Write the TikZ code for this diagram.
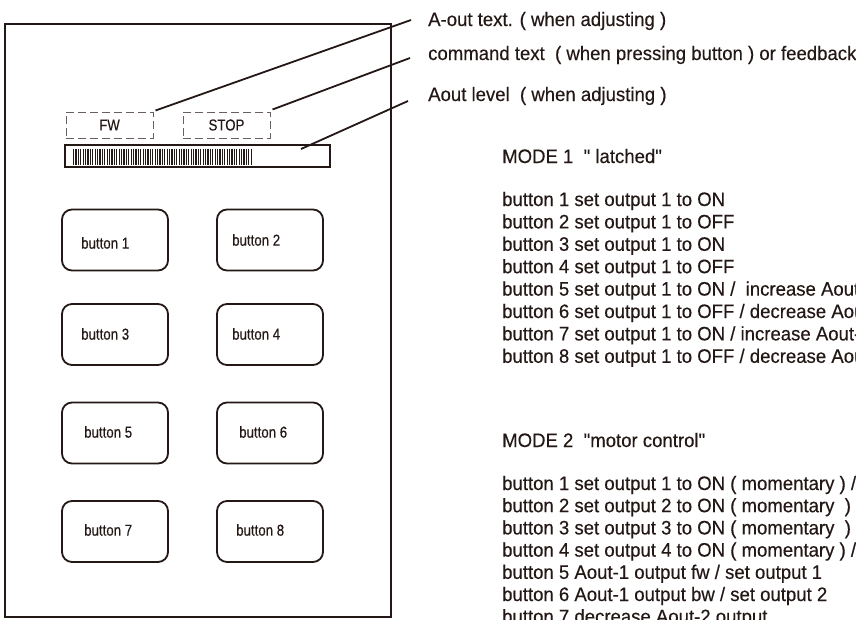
\documentclass[tikz,border=0pt]{standalone}
\usepackage{fontspec}
\setmainfont{Liberation Sans}
\newfontfamily\bigf[FakeStretch=0.952,FakeBold=0.35]{Liberation Sans}
\newfontfamily\smallf[FakeStretch=0.84,FakeBold=0.3]{Liberation Sans}
\definecolor{ink}{RGB}{35,24,21}
\definecolor{dashc}{RGB}{105,95,95}
\begin{document}
\begin{tikzpicture}[x=1pt,y=-1pt,
  outerbox/.style={draw=ink,line width=1.8pt},
  btn/.style={draw=ink,line width=1.8pt,rounded corners=10pt,minimum width=106pt,minimum height=61pt,inner sep=0pt},
  lbl/.style={text=ink,font=\smallf\fontsize{15.8}{18}\selectfont,inner sep=0pt,anchor=mid west},
  dbox/.style={draw=dashc,line width=1pt,dash pattern=on 8pt off 4pt,minimum width=87pt,minimum height=26pt,inner sep=0pt,text=ink,font=\smallf\fontsize{15.8}{18}\selectfont},
  big/.style={text=ink,font=\bigf\fontsize{19.5}{22}\selectfont,inner sep=0pt,anchor=base west},
  leader/.style={draw=ink,line width=1.8pt},
  barbox/.style={draw=ink,line width=1.8pt,minimum width=265pt,minimum height=22pt,inner sep=0pt}]
\useasboundingbox (0,0) rectangle (856,619);
\clip (0,0) rectangle (856,619);

% outer panel
\draw[outerbox] (5,24) rectangle (391,617);

% display fields
\node[dbox] (fw) at (109.5,125) {FW};
\node[dbox] (stop) at (226.5,125) {STOP};
\node[barbox] (bar) at (197.5,156) {};
\foreach \i in {0,...,74}
  \draw[ink,line width=1.3pt] ({73.6+2.4*\i},148.5) -- ++(0,16);
\coordinate (barpt) at (301,149);

% buttons
\node[btn] (b1) at (115,240) {};
\node[btn] (b2) at (270,240) {};
\node[btn] (b3) at (115,334.5) {};
\node[btn] (b4) at (270,334.5) {};
\node[btn] (b5) at (115,433) {};
\node[btn] (b6) at (270,433) {};
\node[btn] (b7) at (115,531.5) {};
\node[btn] (b8) at (270,531.5) {};
\node[lbl] (l1) at (81,246) {button 1};
\node[lbl] (l2) at (232,243) {button 2};
\node[lbl] (l3) at (81,337) {button 3};
\node[lbl] (l4) at (232,337) {button 4};
\node[lbl] (l5) at (84,435) {button 5};
\node[lbl] (l6) at (239,435) {button 6};
\node[lbl] (l7) at (84,533) {button 7};
\node[lbl] (l8) at (236,533) {button 8};

% annotations
\node[big] (t1) at (428,26) {A-out text. ( when adjusting )};
\node[big] (t2) at (428,60) {command text~ ( when pressing button ) or feedback};
\node[big] (t3) at (428,101) {Aout level~ ( when adjusting )};
\coordinate (e1) at (411,20);
\coordinate (e2) at (410,58);
\coordinate (e3) at (408,101);
\draw[leader] ([shift={(2,-1)}]fw.north east) -- (e1);
\draw[leader] ([shift={(2,-2)}]stop.north east) -- (e2);
\draw[leader] (barpt) -- (e3);

% mode 1
\node[big] (m1) at (502,163) {MODE 1~ " latched"};
\node[big] (m1a) at (502,206) {button 1 set output 1 to ON};
\node[big] (m1b) at (502,228.4) {button 2 set output 1 to OFF};
\node[big] (m1c) at (502,250.8) {button 3 set output 1 to ON};
\node[big] (m1d) at (502,273.2) {button 4 set output 1 to OFF};
\node[big] (m1e) at (502,295.6) {button 5 set output 1 to ON /~ increase Aout};
\node[big] (m1f) at (502,318) {button 6 set output 1 to OFF / decrease Aout};
\node[big] (m1g) at (502,340.4) {button 7 set output 1 to ON / increase Aout-};
\node[big] (m1h) at (502,362.8) {button 8 set output 1 to OFF / decrease Aout};

% mode 2
\node[big] (m2) at (502,447) {MODE 2~ "motor control"};
\node[big] (m2a) at (502,490) {button 1 set output 1 to ON ( momentary ) /};
\node[big] (m2b) at (502,512.2) {button 2 set output 2 to ON ( momentary~ ) /};
\node[big] (m2c) at (502,534.4) {button 3 set output 3 to ON ( momentary~ )};
\node[big] (m2d) at (502,556.6) {button 4 set output 4 to ON ( momentary ) /};
\node[big] (m2e) at (502,578.8) {button 5 Aout-1 output fw / set output 1};
\node[big] (m2f) at (502,601) {button 6 Aout-1 output bw / set output 2};
\node[big] (m2g) at (502,623.2) {button 7 decrease Aout-2 output};
\end{tikzpicture}
\end{document}
